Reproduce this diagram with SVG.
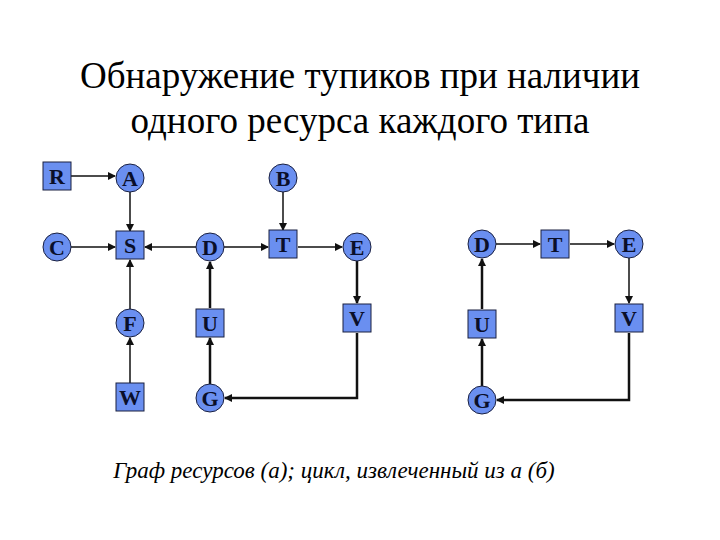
<svg xmlns="http://www.w3.org/2000/svg" width="720" height="540" viewBox="0 0 720 540">
<style>
.n{fill:#6a8ff0;stroke:#1a2040;stroke-width:1}
.t{font-family:"Liberation Serif",serif;font-weight:bold;font-size:22px;fill:#0a0f2a;text-anchor:middle}
.c{stroke:#111;stroke-width:1.5;fill:none;marker-end:url(#a)}
.k{stroke:#111;stroke-width:2.5;fill:none;marker-end:url(#a)}
</style>
<defs><marker id="a" markerWidth="8" markerHeight="8" refX="7" refY="4" orient="auto" markerUnits="userSpaceOnUse"><path d="M0,0 L8,4 L0,8z" fill="#111"/></marker></defs>
<rect width="720" height="540" fill="#fff"/>
<text x="360" y="88" font-family="Liberation Serif,serif" font-size="37" text-anchor="middle">Обнаружение тупиков при наличии</text>
<text x="360" y="133" font-family="Liberation Serif,serif" font-size="37" text-anchor="middle">одного ресурса каждого типа</text>
<g id="connectors">
<path class="c" d="M71,176 H115"/>
<path class="c" d="M130,192 V231"/>
<path class="c" d="M71,247 H115"/>
<path class="c" d="M196,247 H145"/>
<path class="c" d="M130,309 V260"/>
<path class="c" d="M130,383 V338"/>
<path class="c" d="M224,247 H268"/>
<path class="c" d="M283,192 V230"/>
<path class="c" d="M298,247 H342"/>
<path class="k" d="M357,261 V303"/>
<path class="k" d="M357,333 V398 H225"/>
<path class="k" d="M210,384 V338"/>
<path class="k" d="M210,308 V262"/>
<path class="c" d="M496,244 H540"/>
<path class="c" d="M570,244 H614"/>
<path class="c" d="M629,258 V303"/>
<path class="k" d="M629,333 V400 H497"/>
<path class="k" d="M482,386 V339"/>
<path class="k" d="M482,309 V259"/>
</g>
<g id="R"><rect class="n" x="43" y="162" width="28" height="28"/><text class="t" x="57" y="184">R</text></g>
<g id="A"><circle class="n" cx="130" cy="178" r="14"/><text class="t" x="130" y="186">A</text></g>
<g id="B"><circle class="n" cx="283" cy="178" r="14"/><text class="t" x="283" y="186">B</text></g>
<g id="C"><circle class="n" cx="57" cy="247" r="14"/><text class="t" x="57" y="255">C</text></g>
<g id="S"><rect class="n" x="116" y="231" width="28" height="28"/><text class="t" x="130" y="253">S</text></g>
<g id="D"><circle class="n" cx="210" cy="247" r="14"/><text class="t" x="210" y="255">D</text></g>
<g id="T"><rect class="n" x="269" y="230" width="28" height="28"/><text class="t" x="283" y="252">T</text></g>
<g id="E"><circle class="n" cx="357" cy="247" r="14"/><text class="t" x="357" y="255">E</text></g>
<g id="F"><circle class="n" cx="130" cy="323" r="14"/><text class="t" x="130" y="331">F</text></g>
<g id="U"><rect class="n" x="196" y="309" width="28" height="28"/><text class="t" x="210" y="331">U</text></g>
<g id="V"><rect class="n" x="343" y="304" width="28" height="28"/><text class="t" x="357" y="326">V</text></g>
<g id="W"><rect class="n" x="116" y="383" width="28" height="28"/><text class="t" x="130" y="405">W</text></g>
<g id="G"><circle class="n" cx="210" cy="398" r="14"/><text class="t" x="210" y="406">G</text></g>
<g id="D2"><circle class="n" cx="482" cy="244" r="14"/><text class="t" x="482" y="252">D</text></g>
<g id="T2"><rect class="n" x="541" y="230" width="28" height="28"/><text class="t" x="555" y="252">T</text></g>
<g id="E2"><circle class="n" cx="629" cy="244" r="14"/><text class="t" x="629" y="252">E</text></g>
<g id="V2"><rect class="n" x="615" y="304" width="28" height="28"/><text class="t" x="629" y="326">V</text></g>
<g id="U2"><rect class="n" x="468" y="310" width="28" height="28"/><text class="t" x="482" y="332">U</text></g>
<g id="G2"><circle class="n" cx="482" cy="400" r="14"/><text class="t" x="482" y="408">G</text></g>
<text x="334" y="478" font-family="Liberation Serif,serif" font-style="italic" font-size="23" text-anchor="middle">Граф ресурсов (а); цикл, извлеченный из а (б)</text>
</svg>
